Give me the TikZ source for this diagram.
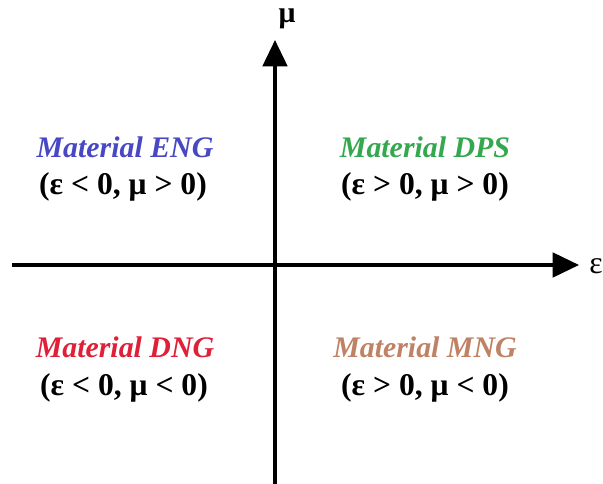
\documentclass[tikz,border=0pt]{standalone}
\usepackage{fontspec}
\setmainfont{Liberation Serif}
\usetikzlibrary{arrows.meta}

\begin{document}
\begin{tikzpicture}[x=0.02cm, y=-0.02cm, >={Triangle[length=15pt, width=14pt]},
    titolo/.style={font=\fontsize{17}{20}\selectfont\bfseries\itshape},
    condizione/.style={font=\fontsize{18}{20}\selectfont\bfseries}]

    % Definizione dei colori
    \definecolor{coloreENG}{RGB}{72,72,196}
    \definecolor{coloreDPS}{RGB}{52,168,78}
    \definecolor{coloreDNG}{RGB}{222,32,56}
    \definecolor{coloreMNG}{RGB}{192,130,100}

    % Bordo della figura
    \useasboundingbox (0,0) rectangle (603,484);

    % Assi con frecce
    \coordinate (sinistra) at (12,265);
    \coordinate (destra) at (579,265);
    \coordinate (basso) at (275,484);
    \coordinate (alto) at (275,40);
    \draw[->, line width=1.8pt] (sinistra) -- (destra);
    \draw[->, line width=1.8pt] (basso) -- (alto);
    \node[inner sep=0pt] (epsilon) at (596,266) {\fontsize{18}{20}\selectfont ε};
    \node[inner sep=0pt] (mu) at (287,19) {\fontsize{17}{20}\selectfont\bfseries μ};

    % Quadranti
    \node[titolo, text=coloreENG] (eng) at (125,147) {Material ENG};
    \node[condizione] (engcond) at (123,187) {(ε < 0, μ > 0)};

    \node[titolo, text=coloreDPS] (dps) at (425,147) {Material DPS};
    \node[condizione] (dpscond) at (425,187) {(ε > 0, μ > 0)};

    \node[titolo, text=coloreDNG] (dng) at (125,347) {Material DNG};
    \node[condizione] (dngcond) at (124,388) {(ε < 0, μ < 0)};

    \node[titolo, text=coloreMNG] (mng) at (425,347) {Material MNG};
    \node[condizione] (mngcond) at (425,388) {(ε > 0, μ < 0)};

\end{tikzpicture}
\end{document}
